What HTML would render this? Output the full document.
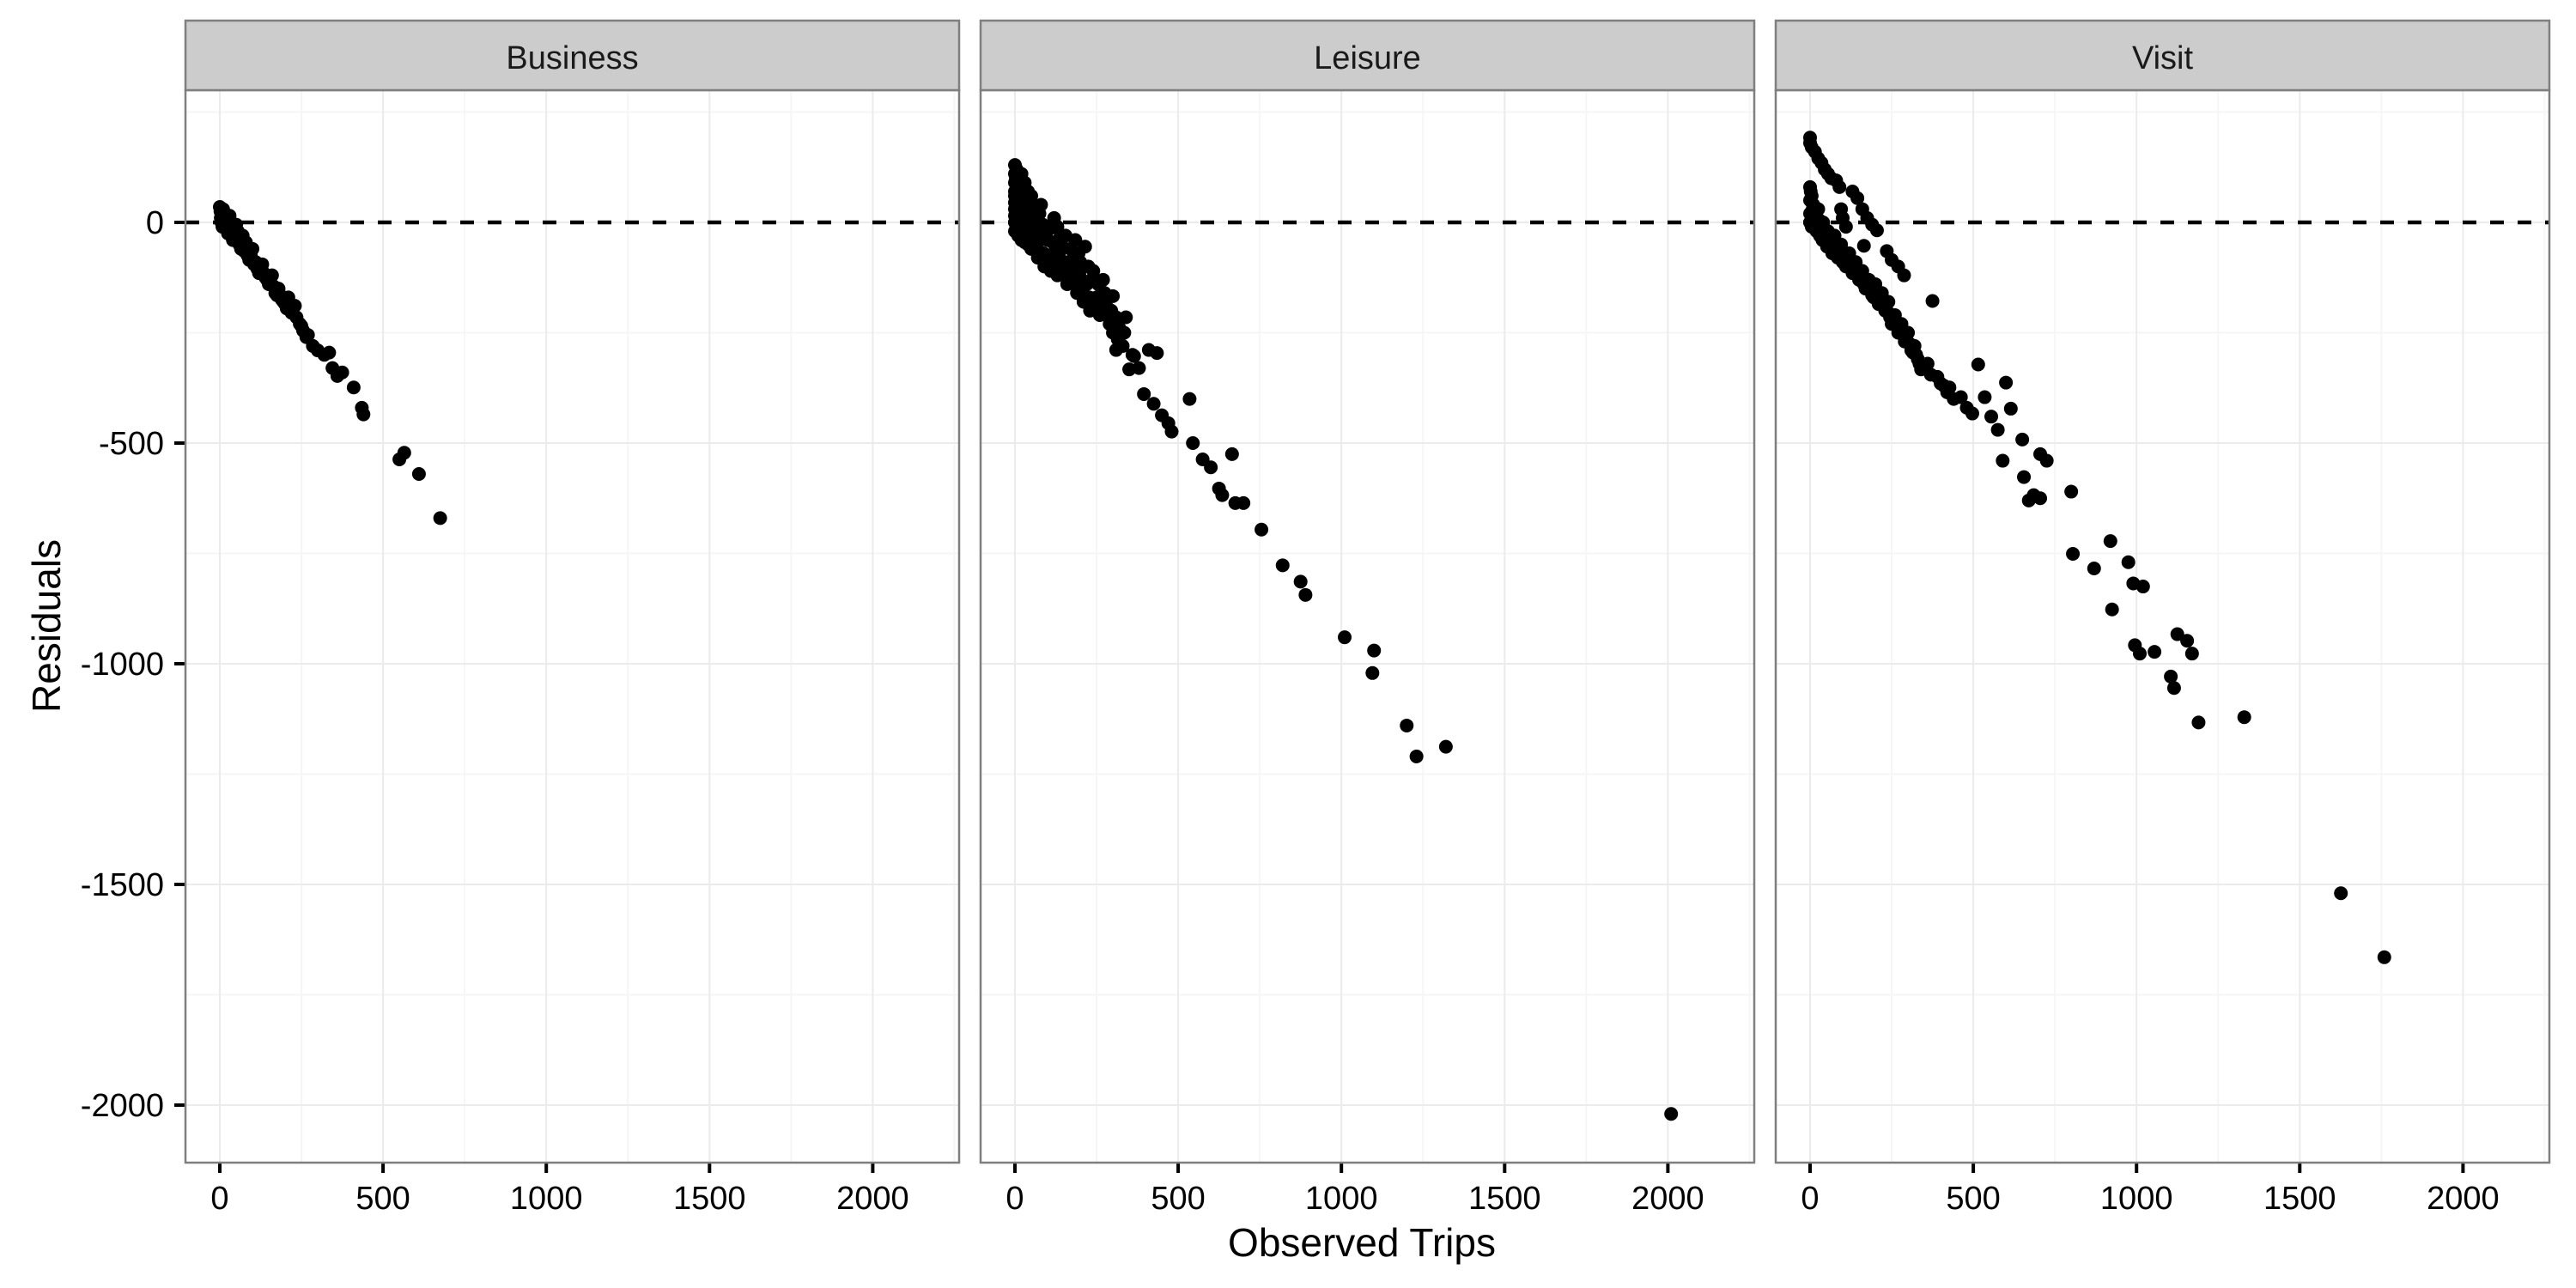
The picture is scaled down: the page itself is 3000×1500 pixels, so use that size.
<!DOCTYPE html>
<html><head><meta charset="utf-8"><style>
html,body{margin:0;padding:0;background:#fff;}
svg{display:block;font-family:"Liberation Sans",Arial,sans-serif;}
</style></head><body>
<svg id="chart" width="3000" height="1500" viewBox="0 0 3000 1500" xmlns="http://www.w3.org/2000/svg">
<rect width="3000" height="1500" fill="#fff"/>
<text x="1586" y="1463" font-size="46" text-anchor="middle" fill="#000">Observed Trips</text>
<text x="0" y="0" font-size="46" text-anchor="middle" fill="#000" transform="translate(70,729) rotate(-90)">Residuals</text>
</svg>
<script>
const panels = ["Business","Leisure","Visit"];
const xTicks = [0,500,1000,1500,2000];
const yTicks = [0,-500,-1000,-1500,-2000];
const bizX = [0,2,5,5,8,10,15,20,20,25,30,35,40,40,50,55,60,65,70,80,85,90,100,110,115,120,130,140,150,160,170,180,190,200,210,220,230,245,255,270,285,300,320,335,345,360,375,410,435,440,550,565,610,675,3,12,18,28,33,45,48,58,68,75,95,105,125,135,145,165,175,185,195,205,235,250,265];
const bizY = [35,25,15,0,-10,30,20,5,-15,-25,15,0,-30,-40,-5,-20,-50,-60,-30,-45,-75,-85,-60,-90,-105,-115,-95,-125,-140,-120,-160,-150,-175,-185,-170,-205,-189,-230,-245,-255,-280,-290,-300,-295,-330,-348,-340,-374,-420,-435,-537,-522,-570,-670,10,-5,10,-10,-20,-15,-35,-40,-45,-65,-75,-95,-105,-115,-130,-145,-165,-165,-180,-195,-215,-235,-260];
const leiX = [0,0,0,0,0,0,0,5,5,5,5,10,10,10,15,20,20,20,25,30,30,40,40,40,50,50,55,60,70,70,80,90,90,100,110,120,125,130,140,150,160,170,180,185,190,200,210,215,220,230,240,250,260,270,280,290,300,300,310,310,320,340,350,365,380,395,410,425,435,450,470,480,535,545,575,600,625,635,665,675,700,755,820,875,890,1010,1095,1100,1200,1230,1320,2010,0,0,0,3,8,12,15,18,25,28,32,35,38,45,48,55,58,62,65,75,78,85,88,95,105,105,115,118,130,135,145,148,155,165,175,178,195,198,205,225,228,235,245,255,265,275,285,295,305,315,330,335,360];
const leiY = [130,110,90,60,30,0,-20,120,70,40,-10,100,20,-30,80,110,50,-40,0,90,-45,70,20,-50,60,-60,0,30,-20,-80,40,-10,-100,-40,-110,10,-60,-120,-30,-90,-140,-60,-110,-40,-160,-90,-180,-55,-140,-200,-110,-170,-210,-130,-190,-230,-167,-250,-215,-289,-240,-215,-333,-303,-330,-389,-289,-411,-296,-437,-455,-474,-400,-500,-537,-555,-603,-618,-525,-636,-636,-696,-777,-814,-844,-940,-1021,-970,-1140,-1210,-1188,-2020,70,45,15,100,55,5,40,-15,60,20,-20,45,0,35,-25,40,-35,10,-55,20,-40,-5,-70,-25,-15,-80,-45,-95,-10,-75,-55,-115,-30,-100,-85,-135,-70,-120,-150,-100,-170,-130,-190,-140,-185,-160,-210,-200,-250,-265,-280,-250,-300];
const visX = [0,0,5,15,25,35,45,55,65,80,90,95,100,110,130,145,160,175,190,205,165,235,250,270,288,0,0,0,0,5,5,10,15,20,25,30,40,45,55,60,70,75,85,95,100,110,120,130,140,150,160,170,180,190,200,210,220,230,240,250,260,270,280,290,300,310,320,330,340,360,375,390,410,427,440,462,480,497,515,535,555,575,590,600,615,650,655,670,685,705,705,725,800,805,870,920,925,975,990,995,1010,1020,1055,1105,1115,1125,1155,1170,1190,1330,1626,1759,2,8,12,18,22,28,35,38,50,52,65,68,80,90,105,115,125,135,145,155,165,175,185,195,205,215,225,235,245,255,265,275,285,295,305,315,325,335,350,370,400,420];
const visY = [192,180,170,160,145,135,120,110,100,95,80,30,10,-10,70,55,30,10,-5,-18,-53,-65,-85,-100,-120,80,50,20,0,60,-10,40,10,-20,30,-30,0,-40,-20,-50,-60,-30,-80,-50,-90,-100,-70,-115,-90,-130,-110,-150,-130,-165,-140,-185,-160,-200,-180,-230,-210,-250,-230,-270,-250,-290,-280,-310,-333,-320,-178,-350,-370,-374,-400,-396,-420,-433,-322,-396,-440,-470,-540,-363,-422,-492,-577,-630,-618,-525,-625,-540,-610,-751,-784,-722,-877,-770,-818,-958,-977,-825,-973,-1029,-1055,-933,-948,-977,-1133,-1121,-1520,-1665,70,30,-5,20,-10,5,-15,-40,-30,-55,-45,-70,-55,-75,-70,-85,-100,-110,-120,-125,-140,-145,-155,-170,-165,-180,-190,-200,-215,-220,-230,-240,-255,-265,-275,-295,-300,-320,-330,-345,-365,-385];
const seriesX = [bizX, leiX, visX];
const seriesY = [bizY, leiY, visY];

const NS = "http://www.w3.org/2000/svg";
const svg = document.getElementById("chart");
const panelLefts = [216, 1142, 2068];
const panelW = 901, plotTop = 105, plotBottom = 1354;
function xScale(i, v){ return panelLefts[i] + 40 + v * 0.3802; }
function yScale(v){ return 259 - v * 0.514; }
function mk(tag, attrs){ const e = document.createElementNS(NS, tag); for (const k in attrs) e.setAttribute(k, attrs[k]); svg.appendChild(e); return e; }

panels.forEach((name, i) => {
  const L = panelLefts[i], R = L + panelW;
  const bg = mk("rect", {x:L, y:plotTop, width:panelW, height:plotBottom-plotTop, fill:"#fff"});
  
  
  [250,750,1250,1750,2250].forEach(v => {
    const x = xScale(i, v); if (x > R) return;
    const g = mk("line", {x1:x, x2:x, y1:plotTop, y2:plotBottom, stroke:"#f6f6f6", "stroke-width":2});
    
    
  });
  [250,-250,-750,-1250,-1750].forEach(v => {
    const y = yScale(v);
    const g = mk("line", {x1:L, x2:R, y1:y, y2:y, stroke:"#f6f6f6", "stroke-width":2});
    
    
  });
  xTicks.forEach(v => {
    const x = xScale(i, v);
    const g = mk("line", {x1:x, x2:x, y1:plotTop, y2:plotBottom, stroke:"#ebebeb", "stroke-width":2});
    
    
    const t = mk("line", {x1:x, x2:x, y1:plotBottom, y2:plotBottom+12, stroke:"#000", "stroke-width":4});
    
    
    const lb = mk("text", {x:x, y:1408, "font-size":38, "text-anchor":"middle", fill:"#000"});
    lb.textContent = v;
    
    
  });
  yTicks.forEach(v => {
    const y = yScale(v);
    const g = mk("line", {x1:L, x2:R, y1:y, y2:y, stroke:"#ebebeb", "stroke-width":2});
    
    
    if (i === 0) {
      const t = mk("line", {x1:L-13, x2:L, y1:y, y2:y, stroke:"#000", "stroke-width":4});
      
      
      const lb = mk("text", {x:191, y:y+13, "font-size":38, "text-anchor":"end", fill:"#000"});
      lb.textContent = v;
      
      
    }
  });
  const zl = mk("line", {x1:L, x2:R, y1:yScale(0), y2:yScale(0), stroke:"#000", "stroke-width":4.5, "stroke-dasharray":"16 16"});
  
  
  const xs = seriesX[i], ys = seriesY[i];
  xs.forEach((xv, k) => {
    const c = mk("circle", {cx:xScale(i, xv), cy:yScale(ys[k]), r:8, fill:"#000"});
    
    
  });
  const border = mk("rect", {x:L, y:plotTop, width:panelW, height:plotBottom-plotTop, fill:"none", stroke:"#7f7f7f", "stroke-width":2.5});
  
  
  const strip = mk("rect", {x:L, y:24, width:panelW, height:81, fill:"#cccccc", stroke:"#7f7f7f", "stroke-width":2.5});
  
  
  const st = mk("text", {x:L + panelW/2, y:80, "font-size":38, "text-anchor":"middle", fill:"#1a1a1a"});
  st.textContent = name;
  
  
});
</script>
</body></html>
